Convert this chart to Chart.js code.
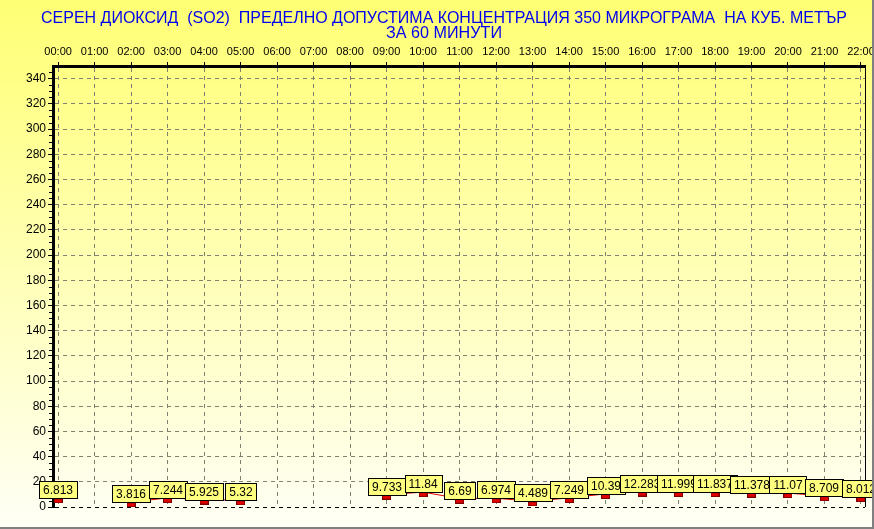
<!DOCTYPE html>
<html>
<head>
<meta charset="utf-8">
<script src="https://cdn.jsdelivr.net/npm/chart.js@4.4.0/dist/chart.umd.min.js"></script>
<style>
  html, body { margin: 0; padding: 0; overflow: hidden; background: #fff; }
  #wrap { width: 874px; height: 529px; position: relative; }
</style>
</head>
<body>
<div id="wrap"><canvas id="so2Chart"></canvas></div>
<script>
'use strict';

// ── Data ──────────────────────────────────
const titleLines = [
  'СЕРЕН ДИОКСИД  (SO2)  ПРЕДЕЛНО ДОПУСТИМА КОНЦЕНТРАЦИЯ 350 МИКРОГРАМА  НА КУБ. МЕТЪР',
  'ЗА 60 МИНУТИ'
];
const hours = ['00:00', '01:00', '02:00', '03:00', '04:00', '05:00', '06:00', '07:00',
               '08:00', '09:00', '10:00', '11:00', '12:00', '13:00', '14:00', '15:00',
               '16:00', '17:00', '18:00', '19:00', '20:00', '21:00', '22:00'];
const so2 = [6.813, null, 3.816, 7.244, 5.925, 5.32, null, null,
             null, 9.733, 11.84, 6.69, 6.974, 4.489, 7.249, 10.39,
             12.283, 11.999, 11.837, 11.378, 11.07, 8.709, 8.012];
const yTickStep = 20;
const yMax = 350;

const points = hours.map((h, i) => ({ x: i, y: so2[i] }));

// small red marker, its top edge sits on the value
function makeMarker() {
  const c = document.createElement('canvas');
  c.width = 9; c.height = 10;
  const g = c.getContext('2d');
  g.fillStyle = '#800000';
  g.fillRect(0, 5, 9, 5);
  g.fillStyle = '#e00000';
  g.fillRect(1, 6, 7, 3);
  return c;
}

const bgPlugin = {
  id: 'bg',
  beforeDraw(chart) {
    const { ctx, width, height } = chart;
    const grad = ctx.createLinearGradient(0, 0, 0, height);
    grad.addColorStop(0, '#ffff74');
    grad.addColorStop(0.5, '#ffffb4');
    grad.addColorStop(1, '#fffff6');
    ctx.save();
    ctx.fillStyle = grad;
    ctx.fillRect(0, 0, width, height);
    ctx.restore();
  },
  beforeDatasetsDraw(chart) {
    const { ctx, chartArea: a } = chart;
    // minor ticks on the y axis
    const ys = chart.scales.y;
    ctx.save();
    ctx.strokeStyle = '#000';
    ctx.lineWidth = 1;
    for (let v = 5; v < yMax; v += 5) {
      if (v % yTickStep === 0) continue;
      const py = Math.round(ys.getPixelForValue(v)) + 0.5;
      ctx.beginPath();
      ctx.moveTo(a.left - 4, py);
      ctx.lineTo(a.left - 1, py);
      ctx.stroke();
    }
    // right frame of the plot
    ctx.beginPath();
    ctx.moveTo(a.right + 0.5, a.top);
    ctx.lineTo(a.right + 0.5, a.bottom);
    ctx.stroke();
    ctx.restore();
  },
  afterDraw(chart) {
    const { ctx, width, height } = chart;
    ctx.save();
    // window edge
    ctx.strokeStyle = '#808080';
    ctx.lineWidth = 2;
    ctx.beginPath();
    ctx.moveTo(0, height - 1);
    ctx.lineTo(width - 1, height - 1);
    ctx.lineTo(width - 1, 0);
    ctx.stroke();
    // title
    ctx.fillStyle = '#0000f0';
    ctx.textAlign = 'center';
    ctx.textBaseline = 'middle';
    ctx.font = "17px 'Liberation Sans Narrow', 'Liberation Sans', Arial, sans-serif";
    const tops = [18, 33];
    titleLines.forEach((t, i) => {
      const w = ctx.measureText(t).width;
      const target = i === 0 ? 806 : 116;
      const sx = Math.min(1, target / w);
      ctx.save();
      ctx.translate(444, tops[i]);
      ctx.scale(sx, 1);
      ctx.fillText(t, 0, 0);
      ctx.restore();
    });
    ctx.restore();
  }
};

const labelPlugin = {
  id: 'valueBoxes',
  afterDatasetsDraw(chart) {
    const { ctx } = chart;
    const meta = chart.getDatasetMeta(0);
    ctx.save();
    ctx.font = "12px 'Liberation Sans', Arial, sans-serif";
    ctx.textAlign = 'center';
    ctx.textBaseline = 'middle';
    meta.data.forEach((el, i) => {
      if (so2[i] === null || el.skip) return;
      const txt = String(so2[i]);
      const w = Math.round(ctx.measureText(txt).width) + 8;
      const h = 17;
      const x = Math.round(el.x - w / 2) + 0.5;
      const y = Math.round(el.y - h) + 0.5;
      ctx.fillStyle = '#ffff80';
      ctx.fillRect(x, y, w, h);
      ctx.strokeStyle = '#000';
      ctx.lineWidth = 1;
      ctx.strokeRect(x, y, w, h);
      ctx.fillStyle = '#000';
      ctx.fillText(txt, Math.round(el.x), y + h / 2 + 0.5);
    });
    ctx.restore();
  }
};

const marker = makeMarker();

new Chart(document.getElementById('so2Chart').getContext('2d'), {
  type: 'line',
  data: {
    datasets: [{
      label: 'SO2',
      data: points,
      borderColor: '#e00000',
      borderWidth: 1,
      pointStyle: marker,
      pointRadius: 5,
      pointHoverRadius: 5,
      tension: 0,
      spanGaps: false,
      fill: false
    }]
  },
  options: {
    responsive: true, maintainAspectRatio: false,
    animation: false,
    events: [],
    layout: { padding: { left: 0, top: 0, right: 9, bottom: 22 } },
    plugins: {
      legend: { display: false },
      tooltip: { enabled: false }
    },
    scales: {
      x: {
        type: 'linear',
        position: 'top',
        min: -0.14, max: 22.11,
        afterFit(s) { s.height = 66; s.paddingLeft = 0; s.paddingRight = 0; },
        grid: { color: '#808070', tickColor: '#000', tickLength: 4, lineWidth: 1 },
        border: { color: '#000', width: 3, dash: [4, 4] },
        ticks: {
          stepSize: 1, includeBounds: false, autoSkip: false, maxRotation: 0,
          padding: 3, color: '#000',
          font: { family: "'Liberation Sans', Arial, sans-serif", size: 11 },
          callback: v => hours[v] ?? ''
        }
      },
      y: {
        min: 0, max: yMax,
        afterFit(s) { s.width = 53; },
        grid: {
          color: c => c.tick && c.tick.value === 0 ? '#000' : '#808070',
          tickColor: '#000', tickLength: 5, lineWidth: 1
        },
        border: { color: '#000', width: 3, dash: [4, 4] },
        ticks: {
          stepSize: yTickStep, includeBounds: false,
          padding: 2, color: '#000',
          font: { family: "'Liberation Sans', Arial, sans-serif", size: 12 }
        }
      }
    }
  },
  plugins: [bgPlugin, labelPlugin]
});
</script>
</body>
</html>
